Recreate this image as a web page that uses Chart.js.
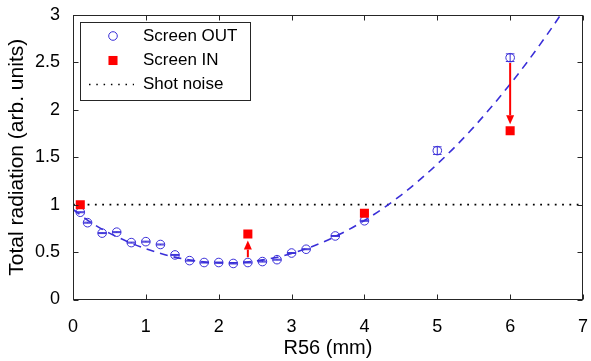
<!DOCTYPE html>
<html><head><meta charset="utf-8">
<script src="https://cdn.jsdelivr.net/npm/chart.js@4"></script>
<style>html,body{margin:0;padding:0;background:#fff}#wrap{width:591px;height:361px}</style>
</head><body><div id="wrap"><canvas id="c" width="591" height="361"></canvas></div>
<script>
// ---- data ----
const outX = [0.1, 0.2, 0.4, 0.6, 0.8, 1.0, 1.2, 1.4, 1.6, 1.8, 2.0, 2.2, 2.4, 2.6, 2.8, 3.0, 3.2, 3.6, 4.0, 5.0, 6.0];
const outY = [0.92, 0.81, 0.70, 0.71, 0.60, 0.61, 0.58, 0.47, 0.41, 0.39, 0.39, 0.38, 0.39, 0.40, 0.42, 0.49, 0.53, 0.67, 0.83, 1.57, 2.55];
const outErr = [0.005, 0.005, 0.005, 0.005, 0.005, 0.005, 0.005, 0.005, 0.005, 0.005, 0.005, 0.005, 0.005, 0.005, 0.005, 0.005, 0.005, 0.005, 0.005, 0.04, 0.04];
const inX = [0.1, 2.4, 4.0, 6.0];
const inY = [1.0, 0.69, 0.91, 1.78];
const fitX = [0, 0.25, 0.5, 0.75, 1.0, 1.25, 1.5, 1.75, 2.0, 2.25, 2.5, 2.75, 3.0, 3.25, 3.5, 3.75, 4.0, 4.25, 4.5, 4.75, 5.0, 5.25, 5.5, 5.75, 6.0, 6.25, 6.5, 6.75, 7.0];
const fitY = [0.95, 0.81, 0.70, 0.61, 0.535, 0.475, 0.43, 0.40, 0.386, 0.388, 0.405, 0.437, 0.485, 0.549, 0.628, 0.723, 0.833, 0.958, 1.099, 1.256, 1.428, 1.615, 1.818, 2.037, 2.271, 2.520, 2.786, 3.066, 3.36];
const noiseX = [0, 7];
const noiseY = [1, 1];
const arrowX = [2.4, 6.0];
const xTicks = [0, 1, 2, 3, 4, 5, 6, 7];
const yTicks = [0, 0.5, 1, 1.5, 2, 2.5, 3];
const legendLabels = ['Screen OUT', 'Screen IN', 'Shot noise'];

const BLUE = '#3a2fd8';
const RED = '#ff0000';
const FONT = "'Liberation Sans', Arial, Helvetica, sans-serif";
const circR = 4.3;
const sqR = 6.4;

const pts = (xs, ys) => xs.map((x, i) => ({x: x, y: ys[i]}));

const decor = {
  id: 'decor',
  afterDatasetsDraw(chart) {
    const ctx = chart.ctx, xs = chart.scales.x, ys = chart.scales.y;
    ctx.save();
    // error bars
    ctx.strokeStyle = BLUE; ctx.lineWidth = 1;
    outX.forEach((x, i) => {
      const px = xs.getPixelForValue(x);
      const p1 = ys.getPixelForValue(outY[i] + outErr[i]);
      const p2 = ys.getPixelForValue(outY[i] - outErr[i]);
      ctx.beginPath();
      ctx.moveTo(px, p1); ctx.lineTo(px, p2);
      ctx.moveTo(px - 4.3, p1); ctx.lineTo(px + 4.3, p1);
      ctx.moveTo(px - 4.3, p2); ctx.lineTo(px + 4.3, p2);
      ctx.stroke();
    });
    // arrows
    ctx.strokeStyle = RED; ctx.fillStyle = RED; ctx.lineWidth = 2;
    const half = Math.SQRT1_2 * sqR;
    arrowX.forEach(x => {
      const yo = outY[outX.indexOf(x)], yi = inY[inX.indexOf(x)];
      const px = xs.getPixelForValue(x);
      const po = ys.getPixelForValue(yo), pi = ys.getPixelForValue(yi);
      const dir = pi < po ? -1 : 1;
      const start = po + dir * (circR + 1);
      const tip = pi - dir * (half + 2);
      const headL = 9, headW = 4;
      const base = tip - dir * headL;
      ctx.beginPath(); ctx.moveTo(px, start); ctx.lineTo(px, base); ctx.stroke();
      ctx.beginPath(); ctx.moveTo(px, tip); ctx.lineTo(px - headW, base); ctx.lineTo(px + headW, base); ctx.closePath(); ctx.fill();
    });
    ctx.restore();
  },
  afterDraw(chart) {
    const ctx = chart.ctx, xs = chart.scales.x, ys = chart.scales.y;
    const L = Math.round(xs.getPixelForValue(0)) + 0.5, R = Math.round(xs.getPixelForValue(7)) - 0.5;
    const T = Math.round(ys.getPixelForValue(3)) + 0.5, B = Math.round(ys.getPixelForValue(0)) - 0.5;
    ctx.save();
    ctx.strokeStyle = '#262626'; ctx.lineWidth = 1;
    ctx.strokeRect(L, T, R - L, B - T);
    ctx.beginPath();
    xTicks.forEach(v => {
      const p = Math.round(xs.getPixelForValue(v)) + 0.5;
      ctx.moveTo(p, B); ctx.lineTo(p, B - 5);
      ctx.moveTo(p, T); ctx.lineTo(p, T + 5);
    });
    yTicks.forEach(v => {
      const p = Math.round(ys.getPixelForValue(v)) + 0.5;
      ctx.moveTo(L, p); ctx.lineTo(L + 5, p);
      ctx.moveTo(R, p); ctx.lineTo(R - 5, p);
    });
    ctx.stroke();
    // legend
    const bx = 80.5, by = 22.5, bw = 170, bh = 78;
    ctx.fillStyle = '#fff'; ctx.fillRect(bx, by, bw, bh);
    ctx.strokeStyle = '#262626'; ctx.strokeRect(bx, by, bw, bh);
    const rows = [36, 60.5, 84.5];
    ctx.strokeStyle = BLUE; ctx.lineWidth = 1;
    ctx.beginPath(); ctx.arc(113, rows[0], circR, 0, Math.PI * 2); ctx.stroke();
    ctx.fillStyle = RED;
    const h = Math.SQRT1_2 * sqR;
    ctx.fillRect(113 - h, rows[1] - h, 2 * h, 2 * h);
    ctx.strokeStyle = '#000'; ctx.lineWidth = 1.5; ctx.setLineDash([1.5, 5.8]);
    ctx.beginPath(); ctx.moveTo(89, rows[2]); ctx.lineTo(134, rows[2]); ctx.stroke();
    ctx.setLineDash([]);
    ctx.fillStyle = '#000'; ctx.font = '17px ' + FONT; ctx.textBaseline = 'middle'; ctx.textAlign = 'left';
    legendLabels.forEach((t, i) => ctx.fillText(t, 143, rows[i]));
    ctx.restore();
  }
};

new Chart(document.getElementById('c'), {
  type: 'scatter',
  data: {
    datasets: [
      {label: legendLabels[1], data: pts(inX, inY), pointStyle: 'rect', pointRadius: sqR, pointHoverRadius: sqR,
       backgroundColor: RED, borderColor: RED, borderWidth: 0, showLine: false},
      {label: legendLabels[0], data: pts(outX, outY), pointStyle: 'circle', pointRadius: circR, pointHoverRadius: circR,
       backgroundColor: 'rgba(0,0,0,0)', borderColor: BLUE, borderWidth: 1, showLine: false},
      {label: 'fit', data: pts(fitX, fitY), showLine: true, pointRadius: 0, borderColor: BLUE, borderWidth: 1.6,
       borderDash: [8, 6], cubicInterpolationMode: 'monotone', fill: false},
      {label: legendLabels[2], data: pts(noiseX, noiseY), showLine: true, pointRadius: 0, borderColor: '#000',
       borderWidth: 1.8, borderDash: [1.8, 5.5], fill: false}
    ]
  },
  options: {
    responsive: false, animation: false, devicePixelRatio: 1,
    layout: {padding: {left: 0, right: 8, top: 15, bottom: 0}},
    plugins: {legend: {display: false}, tooltip: {enabled: false}},
    scales: {
      x: {
        type: 'linear', min: 0, max: 7,
        afterBuildTicks: s => { s.ticks = xTicks.map(v => ({value: v})); },
        afterFit: s => { s.height = 61.5; s.paddingLeft = 0; s.paddingRight = 0; },
        grid: {display: false}, border: {display: false},
        ticks: {color: '#000', font: {family: FONT, size: 18}, padding: 9, maxRotation: 0, callback: v => String(v)},
        title: {display: true, text: 'R56 (mm)', color: '#000', font: {family: FONT, size: 20, lineHeight: 1.2}, padding: {top: 0, bottom: 1}}
      },
      y: {
        type: 'linear', min: 0, max: 3,
        afterBuildTicks: s => { s.ticks = yTicks.map(v => ({value: v})); },
        afterFit: s => { s.width = 73; s.paddingTop = 0; s.paddingBottom = 0; },
        grid: {display: false}, border: {display: false},
        ticks: {color: '#000', font: {family: FONT, size: 18}, padding: 5, callback: v => String(v)},
        title: {display: true, text: 'Total radiation (arb. units)', color: '#000', font: {family: FONT, size: 21, lineHeight: 1.2}, padding: {top: 5, bottom: 0}}
      }
    }
  },
  plugins: [decor]
});
</script></body></html>
